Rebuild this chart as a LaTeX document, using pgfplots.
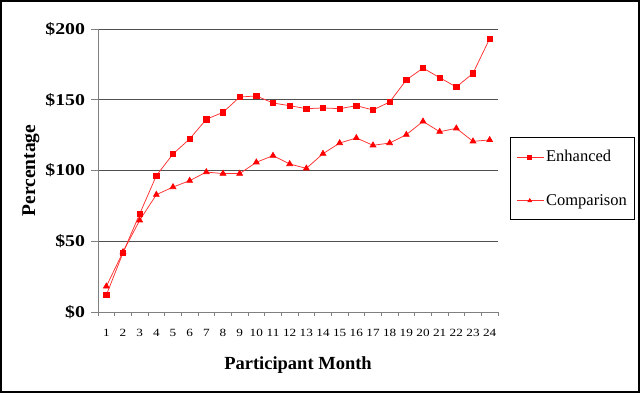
\documentclass[border=0pt]{standalone}
\usepackage{pgfplots}
\pgfplotsset{compat=1.18}
\usepackage{fontspec}
\setmainfont{Liberation Serif}
\newfontfamily\wideserif[FakeStretch=1.2]{Liberation Serif}
\newfontfamily\legserif{Liberation Serif}
\definecolor{lred}{HTML}{FF3030}
\definecolor{gridgray}{HTML}{505050}
\definecolor{axgray}{HTML}{808080}

\pgfplotstableread{
m enh comp
1 12 18.1
2 41.8 42.4
3 69.3 64.8
4 96.3 82.9
5 111.7 88.3
6 122.3 92.8
7 136.2 98.9
8 141.1 97.8
9 151.9 97.8
10 152.7 105.8
11 147.7 110.5
12 145.8 104.6
13 143.7 101.5
14 144.2 111.9
15 143.7 119.4
16 145.8 123
17 142.8 117.8
18 148.4 119.4
19 164 125.3
20 172.4 134.7
21 165.6 127.4
22 159 129.8
23 168.7 120.6
24 193.2 121.6
}\datatable

\begin{document}
\begin{tikzpicture}[x=1pt,y=1pt]
\path (0,0) rectangle (640,393);
\draw[line width=1.6pt] (0.8,0.8) rectangle (639.2,392.2);
\begin{axis}[
  at={(98pt,81pt)}, anchor=south west,
  scale only axis, width=400pt, height=283pt,
  xmin=0.5, xmax=24.5, ymin=0, ymax=200,
  axis x line*=bottom, axis y line*=left,
  axis line style={axgray, line width=0.8pt, -},
  xtick={1,...,24},
  minor xtick={0.5,1.5,...,24.5},
  ytick={0,50,100,150,200},
  yticklabels={\$0,\$50,\$100,\$150,\$200},
  tick align=outside,
  major tick length=7pt, minor tick length=4pt,
  major x tick style={draw=none},
  tick style={axgray, line width=0.8pt},
  ymajorgrids, grid style={gridgray, line width=0.9pt},
  /pgf/number format/assume math mode=true,
  xticklabel style={font=\wideserif\fontsize{11}{11}\selectfont, anchor=center, yshift=-14pt},
  yticklabel style={font=\wideserif\bfseries\fontsize{16.5}{16.5}\selectfont, anchor=east, xshift=-2.5pt},
  xlabel={Participant Month},
  ylabel={Percentage},
  xlabel style={font=\rmfamily\bfseries\fontsize{18.5}{18.5}\selectfont, at={(axis description cs:0.5,-0.187)}, anchor=center},
  ylabel style={font=\rmfamily\bfseries\fontsize{19.5}{19.5}\selectfont, at={(axis description cs:-0.1675,0.5)}, anchor=center},
  legend style={at={(1.03,0.618)}, anchor=north west, draw=black, line width=0.8pt,
    font=\legserif\fontsize{16.5}{16.5}\selectfont, inner xsep=6pt, inner ysep=11pt, row sep=27pt,
    cells={anchor=west}},
  legend image code/.code={
    \path (0pt,0pt) -- (27pt,0pt);
    \draw[#1, line width=0.7pt, mark repeat=2, mark phase=2, mark size=2pt] plot coordinates {(3pt,0pt) (13pt,0pt) (23pt,0pt)};
  },
  clip=false,
]
\addplot[lred, line width=0.75pt, mark=square*, mark size=2.7pt, mark options={fill=red, draw=red}] table[x=m, y=enh] {\datatable};
\addlegendentry{Enhanced}
\addplot[lred, line width=0.75pt, mark=triangle*, mark size=3.3pt, mark options={fill=red, draw=red}] table[x=m, y=comp] {\datatable};
\addlegendentry{Comparison}
\end{axis}
\end{tikzpicture}
\end{document}
